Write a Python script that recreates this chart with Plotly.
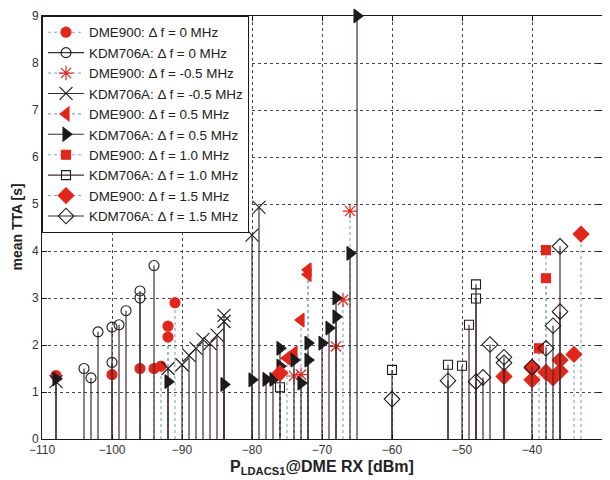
import plotly.graph_objects as go

# ---------------- data ----------------
dme0_x = [-108, -100, -96, -94, -93, -92, -92, -91]
dme0_y = [1.35, 1.37, 1.5, 1.5, 1.55, 2.17, 2.4, 2.9]

kdm0_x = [-104, -103, -102, -100, -100, -99, -98, -96, -96, -94]
kdm0_y = [1.5, 1.3, 2.28, 2.38, 1.63, 2.43, 2.73, 3.15, 3.0, 3.69]

dmem05_x = [-74, -73, -68, -67, -66]
dmem05_y = [1.34, 1.37, 1.97, 2.96, 4.85]

kdmm05_x = [-108, -92, -90, -89, -88, -87, -86, -85, -84, -84, -80, -79]
kdmm05_y = [1.22, 1.5, 1.58, 1.78, 1.93, 2.12, 2.03, 2.21, 2.5, 2.63, 4.34, 4.93]

dme05_x = [-75, -74, -73, -72, -72]
dme05_y = [1.72, 1.83, 2.53, 3.5, 3.6]

kdm05_x = [-108, -92, -84, -80, -78, -77, -76, -76, -74, -73, -72, -72, -70, -69, -68, -68, -66, -65]
kdm05_y = [1.28, 1.22, 1.16, 1.26, 1.27, 1.27, 1.93, 1.55, 1.68, 1.19, 2.04, 1.68, 2.04, 2.36, 2.6, 3.0, 3.95, 9.0]

dme10_x = [-39, -38, -38]
dme10_y = [1.93, 3.42, 4.02]

kdm10_x = [-76, -60, -52, -50, -49, -48, -48]
kdm10_y = [1.1, 1.47, 1.58, 1.56, 2.43, 3.29, 2.99]

dme15_x = [-76, -44, -40, -40, -38, -37, -36, -36, -34, -33]
dme15_y = [1.4, 1.33, 1.51, 1.26, 1.42, 1.3, 1.68, 1.44, 1.8, 4.36]

kdm15_x = [-60, -52, -48, -47, -46, -44, -44, -40, -38, -37, -36, -36]
kdm15_y = [0.85, 1.24, 1.22, 1.31, 2.01, 1.74, 1.62, 1.53, 1.93, 2.41, 2.71, 4.1]

x_ticks = [-110, -100, -90, -80, -70, -60, -50, -40, -30]
y_ticks = [0, 1, 2, 3, 4, 5, 6, 7, 8, 9]

# ---------------- styles ----------------
RED = "#e3261b"
DARK = "#1e1a1a"
STEM_K = "#3e2e2e"
STEM_D = "#7fa6c8"
FONT = "Liberation Sans, Arial"

series = [
    ("DME900: Δ f = 0 MHz", dme0_x, dme0_y, "circle", 10, True),
    ("KDM706A: Δ f = 0 MHz", kdm0_x, kdm0_y, "circle-open", 10, False),
    ("DME900: Δ f = -0.5 MHz", dmem05_x, dmem05_y, "asterisk-open", 12, True),
    ("KDM706A: Δ f = -0.5 MHz", kdmm05_x, kdmm05_y, "x-thin-open", 13, False),
    ("DME900: Δ f = 0.5 MHz", dme05_x, dme05_y, "triangle-left", 12, True),
    ("KDM706A: Δ f = 0.5 MHz", kdm05_x, kdm05_y, "triangle-right", 12, False),
    ("DME900: Δ f = 1.0 MHz", dme10_x, dme10_y, "square", 9, True),
    ("KDM706A: Δ f = 1.0 MHz", kdm10_x, kdm10_y, "square-open", 9, False),
    ("DME900: Δ f = 1.5 MHz", dme15_x, dme15_y, "diamond", 12, True),
    ("KDM706A: Δ f = 1.5 MHz", kdm15_x, kdm15_y, "diamond-open", 12, False),
]


def stems(xs, ys):
    sx, sy = [], []
    for x, y in zip(xs, ys):
        sx += [x, x, None]
        sy += [0, y, None]
    return sx, sy


fig = go.Figure()
for i, (name, xs, ys, sym, size, is_dme) in enumerate(series):
    if is_dme:
        line = dict(color=STEM_D, width=1.1, dash="dot")
        marker = dict(symbol=sym, size=size, color=RED, opacity=1,
                      line=dict(color=RED, width=1.2))
    else:
        line = dict(color=STEM_K, width=1.2)
        marker = dict(symbol=sym, size=size, color=DARK, opacity=1,
                      line=dict(color=DARK, width=1.1))
    sx, sy = stems(xs, ys)
    grp = f"g{i}"
    fig.add_trace(go.Scatter(x=sx, y=sy, mode="lines", line=line,
                             showlegend=False, legendgroup=grp,
                             hoverinfo="skip"))
    fig.add_trace(go.Scatter(x=xs, y=ys, mode="markers", marker=marker,
                             showlegend=False, legendgroup=grp,
                             cliponaxis=False, name=name))
    # legend entry (line sample + marker)
    fig.add_trace(go.Scatter(x=[None], y=[None], mode="lines+markers",
                             name=name, legendgroup=grp,
                             line=dict(color=(STEM_D if is_dme else STEM_K),
                                       width=1.1, dash=("dot" if is_dme else "solid")),
                             marker=marker))

axis_common = dict(
    showline=True, linecolor=DARK, linewidth=1, mirror="allticks",
    ticks="inside", ticklen=5, tickcolor=DARK,
    showgrid=True, gridcolor="#3f4a58", gridwidth=1, griddash="dot",
    zeroline=False, automargin=False,
    tickfont=dict(family=FONT, size=12, color="#333333"),
)

# the page body adds an 8 px offset; size and margins account for it
fig.update_layout(
    width=602, height=472,
    margin=dict(l=34, r=8, t=7.5, b=40.7),
    paper_bgcolor="white", plot_bgcolor="white",
    xaxis=dict(range=[-110, -30], tickvals=x_ticks, **axis_common),
    yaxis=dict(range=[0, 9], tickvals=y_ticks, **axis_common),
    legend=dict(
        x=0, y=1, xanchor="left", yanchor="top",
        bgcolor="white", bordercolor=DARK, borderwidth=1,
        font=dict(family=FONT, size=13.4, color="#222222"),
        itemsizing="trace", itemwidth=36, tracegroupgap=0,
    ),
    annotations=[
        dict(text="<b>mean TTA [s]</b>", textangle=-90,
             xref="paper", yref="paper", x=0, y=0.5, xshift=-26,
             xanchor="center", yanchor="middle", showarrow=False,
             font=dict(family=FONT, size=14, color="#222222")),
        dict(text="<b>P<sub>LDACS1</sub>@DME RX [dBm]</b>",
             xref="paper", yref="paper", x=0.5, y=0, yshift=-28,
             xanchor="center", yanchor="middle", showarrow=False,
             font=dict(family=FONT, size=16, color="#222222")),
    ],
)

fig.write_html("out.html")
